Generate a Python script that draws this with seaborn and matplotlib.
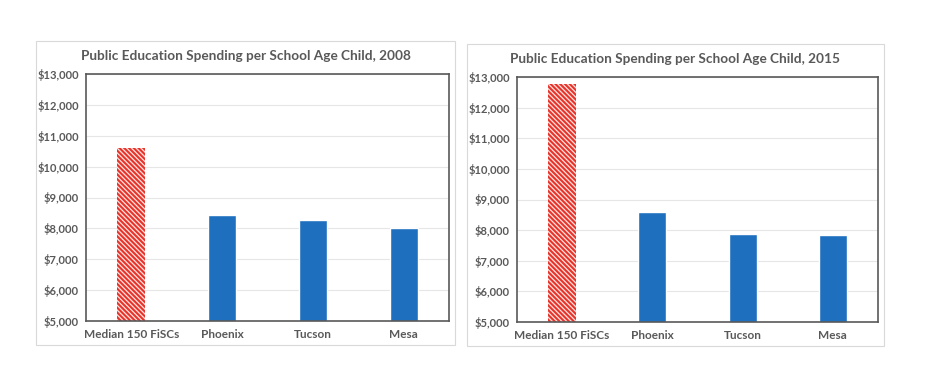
import matplotlib
matplotlib.use("Agg")
import matplotlib.pyplot as plt
import seaborn as sns
from matplotlib.patches import Rectangle
from matplotlib.ticker import FuncFormatter

cities = ["Median 150 FiSCs", "Phoenix", "Tucson", "Mesa"]
spend_2008 = [10600, 8420, 8270, 8000]
spend_2015 = [12770, 8580, 7870, 7840]
years = ["2008", "2015"]

sns.set_style("white")
plt.rcParams['font.family'] = ['Lato', 'DejaVu Sans']
plt.rcParams['hatch.color'] = "#e8332a"
plt.rcParams['hatch.linewidth'] = 1.5

blue = "#1f6fbf"
gray_txt = "#595959"

fig = plt.figure(figsize=(9.29, 3.82), dpi=100)

# pixel boxes: axes l, r, b, t and outer border l, r, t, b
boxes = [(86, 449, 321, 74, 36, 455, 41, 345),
         (517, 878, 322, 77, 467, 884, 44, 346)]

W, H = 929, 382
for (l, r, b, t, bl, br, bt, bb), vals, yr in zip(boxes, [spend_2008, spend_2015], years):
    # outer chart border
    fig.patches.append(Rectangle((bl / W, 1 - bb / H), (br - bl) / W, (bb - bt) / H,
                                 transform=fig.transFigure, fill=False,
                                 edgecolor="#d9d9d9", linewidth=0.8))
    ax = fig.add_axes([l / W, 1 - b / H, (r - l) / W, (b - t) / H])
    sns.barplot(x=cities, y=vals, ax=ax, color=blue, width=0.31, saturation=1)
    p0 = ax.patches[0]
    p0.set_facecolor("#fde3e0")
    p0.set_hatch("\\\\\\\\\\\\\\")
    p0.set_edgecolor("#e8332a")
    p0.set_linewidth(0)
    ax.set_ylim(5000, 13000)
    ax.set_yticks(range(5000, 13001, 1000))
    ax.yaxis.set_major_formatter(FuncFormatter(lambda v, _: "${:,.0f}".format(v)))
    ax.grid(axis="y", color="#e6e6e6", linewidth=0.8)
    ax.set_axisbelow(True)
    for s in ax.spines.values():
        s.set_color("#595959")
        s.set_linewidth(1.2)
    ax.tick_params(axis="y", length=0, labelsize=8, labelcolor=gray_txt, pad=5)
    ax.tick_params(axis="x", length=0, labelsize=8.5, labelcolor=gray_txt, pad=6)
    for lab in ax.get_xticklabels() + ax.get_yticklabels():
        lab.set_fontweight("bold")
    ax.set_xlabel("")
    fig.text((bl + br) / 2 / W, 1 - (bt + 15) / H,
             "Public Education Spending per School Age Child, " + yr,
             ha="center", va="center", fontsize=9.8, fontweight="bold", color=gray_txt)

fig.savefig("out.png", dpi=100)
